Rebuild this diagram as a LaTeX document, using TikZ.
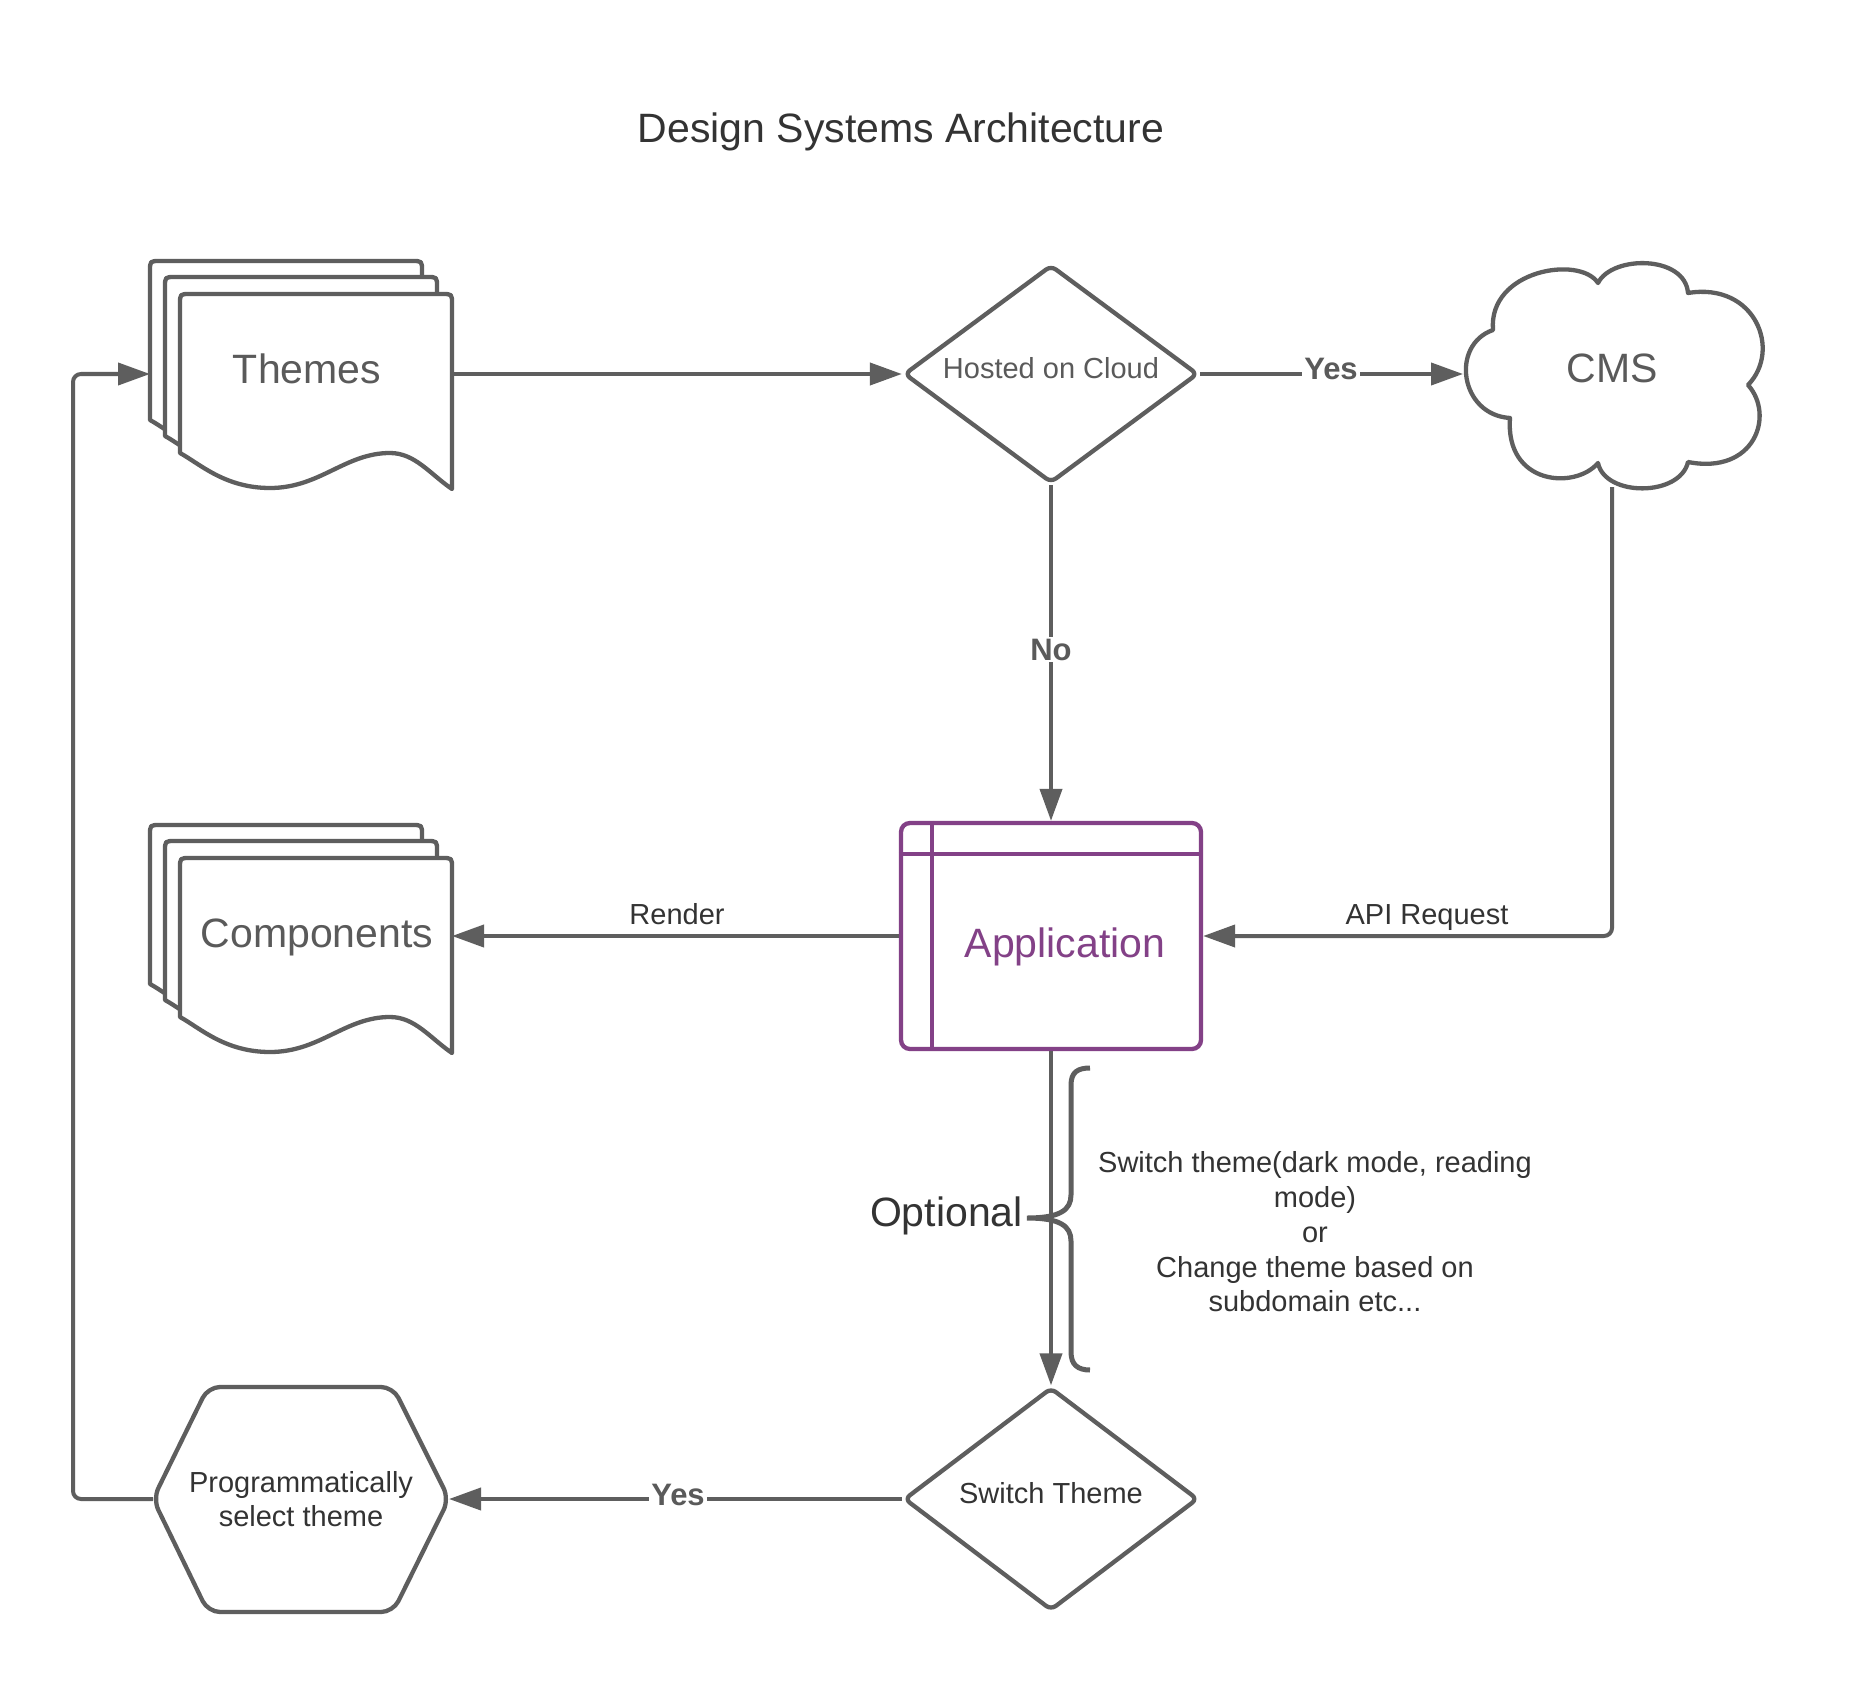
\documentclass[tikz,border=0pt]{standalone}
\usepackage{fontspec}
\setmainfont{Liberation Sans}
\usetikzlibrary{shapes.geometric,arrows.meta}
\definecolor{linec}{HTML}{5E5E5E}
\definecolor{txtd}{HTML}{333333}
\definecolor{txtg}{HTML}{5A5A5A}
\definecolor{appP}{HTML}{834187}
\newcommand\dsBig{\fontsize{41}{49}\selectfont}
\newcommand\dsSmall{\fontsize{29}{34.7}\selectfont}
\newcommand\dsBold{\fontsize{31}{37}\selectfont\bfseries}
\tikzset{
  shp/.style={draw=linec, line width=4.3pt, fill=white, line join=round},
  conn/.style={draw=linec, line width=4pt, -{Triangle[length=32pt,width=22pt]}},
  anchorbox/.style={inner sep=0pt, outer sep=0pt, draw=none},
  bigtxt/.style={font=\dsBig, text=txtg, inner sep=0pt, anchor=base},
  smalltxt/.style={font=\dsSmall, text=txtd, inner sep=0pt, anchor=base},
  yn/.style={font=\dsBold, text=txtg, fill=white, inner sep=2pt, anchor=base},
  docpic/.pic={
    \draw[shp] (0,159) -- (0,10) .. controls (0,0) .. (10,0) -- (262,0)
      .. controls (272,0) .. (272,10) -- (272,195)
      .. controls (250,180) and (235,159) .. (210,159)
      .. controls (165,159) and (140,194) .. (90,194)
      .. controls (45,194) and (20,170) .. (0,159) -- cycle;
  }
}
\begin{document}
\begin{tikzpicture}[x=1pt,y=-1pt]
\useasboundingbox[fill=white] (0,0) rectangle (1856,1688);

% title
\node[bigtxt, text=txtd] (title) at (901,143) {Design Systems Architecture};

% Themes stack
\node[anchorbox, minimum width=302pt, minimum height=228pt] (themes) at (301,374) {};
\pic at (150,261) {docpic};
\pic at (165,277) {docpic};
\pic at (180,294) {docpic};
\node[bigtxt] (themesT) at (307,383) {Themes};

% Components stack
\node[anchorbox, minimum width=302pt, minimum height=228pt] (comps) at (301,938) {};
\pic at (150,825) {docpic};
\pic at (165,841) {docpic};
\pic at (180,858) {docpic};
\node[bigtxt] (compsT) at (317,947) {Components};

% Hosted on Cloud
\node[diamond, shp, minimum width=294pt, minimum height=218pt, inner sep=0pt, rounded corners=6pt] (hosted) at (1051,374) {};
\node[font=\dsSmall, text=txtg, inner sep=0pt, anchor=base] (hostedT) at (1051,378) {Hosted on Cloud};

% CMS cloud
\node[anchorbox, minimum width=298pt, minimum height=226pt] (cms) at (1612,374) {};
\draw[shp] (1493,330) .. controls (1488,270) and (1580,255) .. (1598,283)
  .. controls (1612,255) and (1685,255) .. (1688,293)
  .. controls (1755,282) and (1782,350) .. (1748,385)
  .. controls (1775,415) and (1755,475) .. (1688,462)
  .. controls (1680,497) and (1605,497) .. (1598,463)
  .. controls (1575,490) and (1505,485) .. (1510,418)
  .. controls (1460,415) and (1450,345) .. (1493,330) -- cycle;
\node[bigtxt] (cmsT) at (1612,382) {CMS};

% Application
\node[draw=appP, line width=4.3pt, rounded corners=9pt, minimum width=300pt, minimum height=226pt, inner sep=0pt, fill=white] (app) at (1051,936) {};
\draw[appP, line width=4.3pt] ([xshift=33pt]app.north west) -- ([xshift=33pt]app.south west);
\draw[appP, line width=4.3pt] ([yshift=-33pt]app.north west) -- ([yshift=-33pt]app.north east);
\node[bigtxt, text=appP] (appT) at (1065,957) {Application};

% Switch Theme
\node[diamond, shp, minimum width=294pt, minimum height=223pt, inner sep=0pt, rounded corners=6pt] (switch) at (1051,1499) {};
\node[smalltxt] (switchT) at (1051,1503) {Switch Theme};

% Hexagon
\node[anchorbox, minimum width=296pt, minimum height=225pt] (hex) at (301,1499) {};
\draw[shp, rounded corners=12pt] (153,1499) -- (208,1387) -- (393,1387) -- (449,1499) -- (393,1612) -- (208,1612) -- cycle;
\node[font=\dsSmall, text=txtd, align=center, inner sep=0pt] (hexT) at (301,1499) {Programmatically\\select theme};

% connectors
\draw[conn] (themes.east) -- (hosted.west);
\draw[conn] (hosted.east) -- (hosted.east -| cms.west);
\node[yn] (yes1) at (1331,380) {Yes};
\draw[conn] (hosted.south) -- (app.north);
\node[yn] (no1) at (1051,660) {No};
\draw[conn, rounded corners=8pt] (cms.south) |- (app.east);
\node[smalltxt] (apiL) at (1427,924) {API Request};
\draw[conn] (app.west) -- (app.west -| comps.east);
\node[smalltxt] (renderL) at (677,924) {Render};
\draw[conn] (app.south) -- (switch.north);
\draw[conn] (switch.west) -- (hex.east);
\node[yn] (yes2) at (678,1505) {Yes};
\draw[conn, rounded corners=8pt] (hex.west) -- ++(-80,0) |- (themes.west);

% brace and optional
\draw[linec, line width=5pt] (1090,1068) .. controls (1078,1068) and (1071,1072) .. (1071,1085)
  -- (1071,1195) .. controls (1071,1210) and (1060,1218) .. (1027,1218)
  .. controls (1060,1218) and (1071,1226) .. (1071,1241)
  -- (1071,1352) .. controls (1071,1365) and (1078,1370) .. (1090,1370);
\node[font=\dsBig, text=txtd, inner sep=0pt, anchor=base east] (optL) at (1023,1226) {Optional};
\node[font=\dsSmall, text=txtd, align=center, inner sep=0pt] (descL) at (1315,1232)
  {Switch theme(dark mode, reading\\mode)\\or\\Change theme based on\\subdomain etc...};
\end{tikzpicture}
\end{document}
